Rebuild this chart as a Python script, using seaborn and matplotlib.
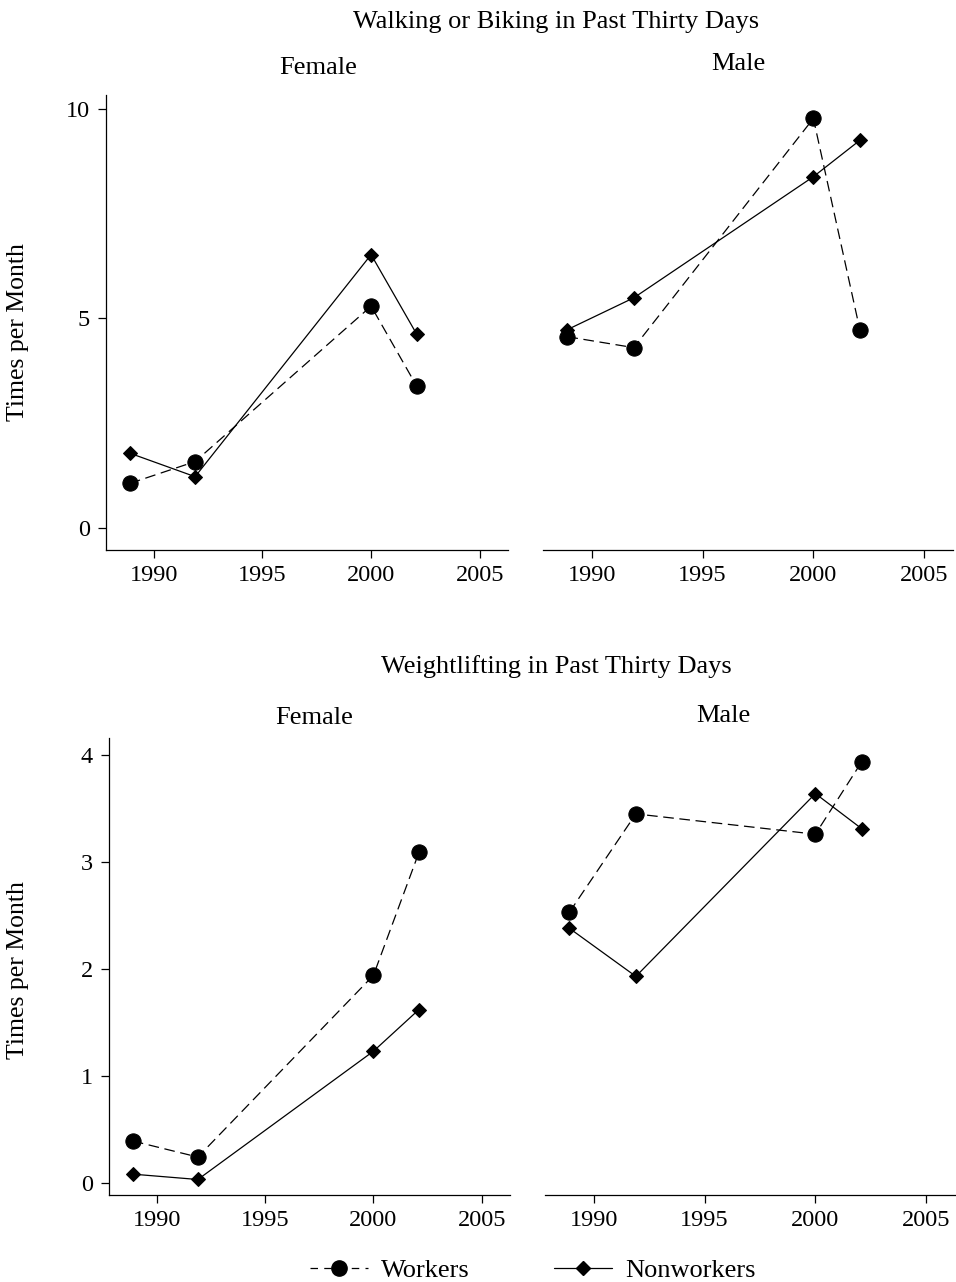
import numpy as np
import pandas as pd
import seaborn as sns
import matplotlib
matplotlib.use("Agg")
import matplotlib.pyplot as plt
from matplotlib.lines import Line2D

# Survey years (slightly offset as plotted)
years = [1988.9, 1991.9, 2000.0, 2002.1]

# Walking or biking, times per month
walk_female_workers = [1.06, 1.58, 5.29, 3.38]
walk_female_nonworkers = [1.78, 1.22, 6.52, 4.62]
walk_male_workers = [4.56, 4.30, 9.77, 4.72]
walk_male_nonworkers = [4.73, 5.49, 8.38, 9.25]

# Weightlifting, times per month
lift_female_workers = [0.39, 0.24, 1.94, 3.09]
lift_female_nonworkers = [0.08, 0.03, 1.23, 1.62]
lift_male_workers = [2.53, 3.45, 3.26, 3.94]
lift_male_nonworkers = [2.38, 1.93, 3.64, 3.31]

groups = ["Workers", "Nonworkers"]
x_ticks = [1990, 1995, 2000, 2005]
walk_yticks = [0, 5, 10]
lift_yticks = [0, 1, 2, 3, 4]

sns.set_theme(style="ticks")
plt.rcParams["font.family"] = ["Liberation Serif", "DejaVu Serif"]
plt.rcParams.update({
    "text.color": "black",
    "axes.labelcolor": "black",
    "axes.linewidth": 0.9,
    "xtick.major.width": 0.9,
    "ytick.major.width": 0.9,
    "xtick.major.size": 5.5,
    "ytick.major.size": 5.5,
    "xtick.color": "black",
    "ytick.color": "black",
    "axes.edgecolor": "black",
})

W, H = 956, 1282
fig = plt.figure(figsize=(W / 100, H / 100), dpi=100)


def px_axes(left, top, right, bottom):
    return fig.add_axes([left / W, 1 - bottom / H, (right - left) / W, (bottom - top) / H])


def frame(workers, nonworkers):
    return pd.DataFrame({
        "year": years * 2,
        "value": list(workers) + list(nonworkers),
        "group": ["Workers"] * 4 + ["Nonworkers"] * 4,
    })


markers = {"Workers": "o", "Nonworkers": "D"}
sizes_pt = {"Workers": 11, "Nonworkers": 7.5}
DASH = (8.5, 4.5)
TICK_FS = 17.5


def draw(ax, workers, nonworkers, ylim, yticks, show_y):
    df = frame(workers, nonworkers)
    for g in groups:
        sub = df[df["group"] == g]
        sns.lineplot(data=sub, x="year", y="value", ax=ax, color="black",
                     marker=markers[g], markersize=sizes_pt[g],
                     markeredgecolor="black", markerfacecolor="black",
                     linewidth=0.9, legend=False, sort=False,
                     estimator=None, linestyle="--" if g == "Workers" else "-")
    for line in ax.get_lines():
        if line.get_linestyle() == "--":
            line.set_dashes(DASH)
    ax.set_xlim(1987.8, 2006.3)
    ax.set_ylim(*ylim)
    ax.set_xticks(x_ticks)
    ax.set_xticklabels([str(t) for t in x_ticks], fontsize=TICK_FS)
    ax.set_xlabel("")
    ax.set_ylabel("")
    ax.spines["top"].set_visible(False)
    ax.spines["right"].set_visible(False)
    if show_y:
        ax.set_yticks(yticks)
        ax.set_yticklabels([str(t) for t in yticks], fontsize=TICK_FS)
    else:
        ax.spines["left"].set_visible(False)
        ax.set_yticks([])
    ax.tick_params(axis="x", pad=5)
    ax.tick_params(axis="y", pad=6)
    ax.set_facecolor("white")


ax1 = px_axes(106, 95, 508, 550)
ax2 = px_axes(543, 95, 953, 550)
ax3 = px_axes(109, 738, 510, 1195)
ax4 = px_axes(545, 738, 955, 1195)

draw(ax1, walk_female_workers, walk_female_nonworkers, (-0.53, 10.33), walk_yticks, True)
draw(ax2, walk_male_workers, walk_male_nonworkers, (-0.53, 10.33), walk_yticks, False)
draw(ax3, lift_female_workers, lift_female_nonworkers, (-0.115, 4.16), lift_yticks, True)
draw(ax4, lift_male_workers, lift_male_nonworkers, (-0.115, 4.16), lift_yticks, False)

fs = 19
fig.text(556 / W, 1 - 22 / H, "Walking or Biking in Past Thirty Days", ha="center", va="center", fontsize=fs)
fig.text(318 / W, 1 - 68 / H, "Female", ha="center", va="center", fontsize=fs)
fig.text(738 / W, 1 - 64 / H, "Male", ha="center", va="center", fontsize=fs)
fig.text(556 / W, 1 - 667 / H, "Weightlifting in Past Thirty Days", ha="center", va="center", fontsize=fs)
fig.text(314 / W, 1 - 718 / H, "Female", ha="center", va="center", fontsize=fs)
fig.text(723 / W, 1 - 716 / H, "Male", ha="center", va="center", fontsize=fs)
fig.text(18 / W, 1 - 332 / H, "Times per Month", rotation=90, ha="center", va="center", fontsize=18.5)
fig.text(18 / W, 1 - 970 / H, "Times per Month", rotation=90, ha="center", va="center", fontsize=18.5)

handles = [
    Line2D([], [], color="black", linestyle=(0, (6, 5)), linewidth=0.9,
           marker="o", markersize=11),
    Line2D([], [], color="black", linestyle="-", linewidth=0.9,
           marker="D", markersize=7.5),
]
fig.legend(handles, groups, loc="center", bbox_to_anchor=(533 / W, 1 - 1270 / H),
           ncol=2, frameon=False, fontsize=19, handlelength=2.2,
           columnspacing=3.2, handletextpad=0.5)

fig.savefig("out.png", dpi=100, facecolor="white")
